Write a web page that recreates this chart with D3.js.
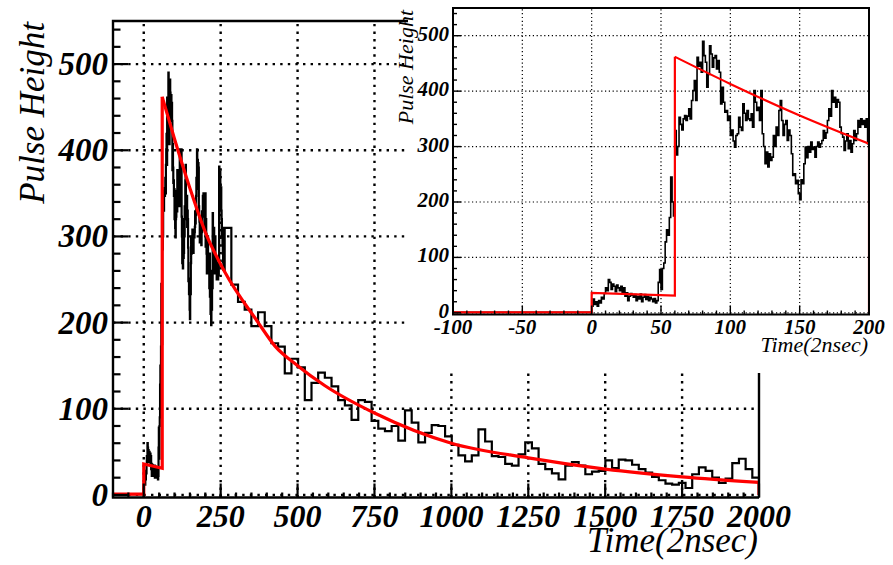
<!DOCTYPE html>
<html><head><meta charset="utf-8">
<script src="https://cdn.jsdelivr.net/npm/d3@7"></script>
<style>
html,body{margin:0;padding:0;background:#fff;}
svg{display:block;}
</style></head>
<body>
<svg id="chart" width="893" height="565"></svg>
<script>
// ---------------- data ----------------
const pedestal = 1;                 // level before t = 0
const fineStart = 0;                // fine bins, width 1, t = 0 .. 262
const fineValues = [
 12,25,15,20,12,22,18,28,25,35,
 45,40,60,55,42,52,48,38,50,45,
 40,48,35,45,30,36,22,30,35,32,
 28,33,22,30,25,34,20,28,33,24,
 30,22,28,25,20,26,18,22,55,78,
 42,80,90,128,150,140,172,245,200,175,
 329,285,300,353,340,330,350,356,347,355,
 368,350,383,401,419,383,461,445,452,434,
 490,464,452,407,430,482,467,443,460,464,
 440,455,434,377,407,380,362,365,347,355,
 320,330,310,299,320,323,353,335,329,377,
 360,347,365,350,347,359,335,401,380,365,
 371,347,401,323,300,269,290,263,287,275,
 281,320,300,335,320,365,383,347,320,340,
 347,311,330,320,287,248,251,233,239,215,
 204,240,233,269,299,280,300,290,308,295,
 299,281,300,308,299,305,311,329,315,325,
 347,368,355,401,380,389,371,385,380,335,
 323,317,293,310,323,296,311,290,305,329,
 311,323,347,335,350,340,347,335,350,305,
 350,288,320,303,280,257,290,270,300,265,
 280,257,275,240,280,230,260,210,240,197,
 230,215,260,240,327,280,300,257,310,270,
 290,265,300,257,276,260,270,250,265,255,
 270,250,262,255,268,381,370,354,375,357,
 340,357,330,320,300,310,290,280,270,261,265,262,261
];
const coarseStart = 263;            // coarse bins up to 2000
const coarseWidth = 21.7125;
const coarseValues = [
 310,244,224,215,196,212,196,176,172,141,
 158,148,110,130,142,136,126,110,104,87,
 110,108,86,77,74,80,63,98,84,61,
 72,81,80,68,58,46,39,46,76,62,
 45,44,36,34,47,61,54,36,30,25,
 18,34,38,34,24,27,28,40,31,41,
 40,35,30,26,21,17,13,12,14,8,
 24,32,28,20,14,19,37,42,30,20
];
// fit curve (red), read points
const fitBase = 1;
const fitStepT = [0, 60];
const fitStepV = [36, 31];
const fitT = [60,100,150,200,263,372,426,500,588,750,1000,1250,1500,1750,2000];
const fitV = [462,413,356,305,259,200,173,150,127,95,60,43,30,21,14.5];

const mainXTicks = [0,250,500,750,1000,1250,1500,1750,2000];
const mainYTicks = [0,100,200,300,400,500];
const insetXTicks = [-100,-50,0,50,100,150,200];
const insetYTicks = [0,100,200,300,400,500];
const xTitle = "Time(2nsec)";
const yTitle = "Pulse Height";

const FONT = '"Liberation Serif"';

// ---------------- helpers ----------------
const svg = d3.select("#chart");
function histBins(xmin, xmax){
  const b = [{x0:xmin, x1:fineStart, v:pedestal}];
  fineValues.forEach((v,i)=>b.push({x0:fineStart+i, x1:fineStart+i+1, v}));
  coarseValues.forEach((v,i)=>b.push({x0:coarseStart+i*coarseWidth, x1:coarseStart+(i+1)*coarseWidth, v}));
  return b.filter(d=>d.x0 < xmax && d.x1 > xmin);
}
function stepPoints(bins){
  const p=[];
  bins.forEach(d=>{p.push([d.x0,d.v]);p.push([d.x1,d.v]);});
  return p;
}
function addText(parent, txt, size, bold){
  const t = parent.append("text").style("font-family", FONT).attr("font-style","italic")
    .attr("font-size", size).attr("fill","#000");
  if(bold) t.attr("font-weight","bold");
  return t.text(txt);
}

function drawPanel(g, o){
  const x=o.x, y=o.y;
  const [x0,x1]=x.range(), [yb,yt]=y.range();
  const id=o.id;
  g.append("clipPath").attr("id",id).append("rect")
    .attr("x",x0).attr("y",yt).attr("width",x1-x0).attr("height",yb-yt);
  // grid
  const grid=g.append("g").attr("stroke","#000").attr("stroke-width",o.gridW)
    .attr("stroke-dasharray",o.gridDash);
  o.xTicks.forEach(t=>{ if(t>x.domain()[0] && t<x.domain()[1])
    grid.append("line").attr("x1",x(t)).attr("x2",x(t)).attr("y1",yb).attr("y2",yt);});
  o.yTicks.forEach(t=>grid.append("line").attr("x1",x0).attr("x2",x1).attr("y1",y(t)).attr("y2",y(t)));
  // histogram
  const dg=g.append("g").attr("clip-path",`url(#${id})`);
  const pts=stepPoints(histBins(x.domain()[0], x.domain()[1]));
  const lastX = Math.min(x.domain()[1], coarseStart+coarseValues.length*coarseWidth);
  pts.push([lastX,0]);
  const line=d3.line().x(d=>x(d[0])).y(d=>y(d[1]));
  dg.append("path").attr("d",line(pts)).attr("fill","none").attr("stroke","#000")
    .attr("stroke-width",o.histW).attr("stroke-linejoin","miter");
  // fit
  const xmax=x.domain()[1];
  const dec=[];
  fitT.forEach((t,i)=>{ if(t<=xmax) dec.push([t,fitV[i]]); });
  const decLine=d3.line().x(d=>x(d[0])).y(d=>y(d[1])).curve(d3.curveMonotoneX);
  const endV = dec[dec.length-1][1];
  const front=[[x.domain()[0],fitBase],[fitStepT[0],fitBase],[fitStepT[0],fitStepV[0]],
               [fitStepT[1],fitStepV[1]],[fitT[0],fitV[0]]];
  dg.append("path").attr("d",line(front)).attr("fill","none").attr("stroke","#ff0000")
    .attr("stroke-width",o.fitW);
  dg.append("path").attr("d",decLine(dec)).attr("fill","none").attr("stroke","#ff0000")
    .attr("stroke-width",o.fitW);
  dg.append("path").attr("d",line([[xmax,endV],[xmax,0]])).attr("fill","none").attr("stroke","#ff0000")
    .attr("stroke-width",o.fitW);
  // ticks
  const tk=g.append("g").attr("stroke","#000");
  d3.range(0, y.domain()[1]+0.1, o.yMinor).forEach(t=>{
    const maj = t % 100 === 0;
    tk.append("line").attr("x1",x0).attr("x2",x0+(maj?o.yMajL:o.yMinL)).attr("y1",y(t)).attr("y2",y(t))
      .attr("stroke-width",o.tickW);
  });
  d3.range(x.domain()[0], x.domain()[1]+0.1, o.xMinor).forEach(t=>{
    const maj = o.xTicks.includes(t);
    tk.append("line").attr("x1",x(t)).attr("x2",x(t)).attr("y1",yb).attr("y2",yb-(maj?o.xMajL:o.xMinL))
      .attr("stroke-width",o.tickW);
  });
  // frame
  o.frame(g);
  // labels
  o.yTicks.forEach(t=>addText(g, t, o.yLabSize, true).attr("x",o.yLabX).attr("y",y(t)+o.yLabDy)
    .attr("text-anchor","end"));
  o.xTicks.forEach(t=>addText(g, t, o.xLabSize, true).attr("x",x(t)).attr("y",o.xLabY)
    .attr("text-anchor","middle"));
  addText(g, xTitle, o.titleSize, false).attr("x",o.xTitleX).attr("y",o.xTitleY).attr("text-anchor","end");
  addText(g, yTitle, o.titleSize, false).attr("text-anchor","end")
    .attr("transform",`translate(${o.yTitleX},${o.yTitleY}) rotate(-90)`);
}

// ---------------- main panel ----------------
const mainX=d3.scaleLinear().domain([-100,2000]).range([113,759]);
const mainY=d3.scaleLinear().domain([-3,550]).range([497.5,21]);
drawPanel(svg.append("g"),{
  id:"clipMain", x:mainX, y:mainY, xTicks:mainXTicks, yTicks:mainYTicks,
  gridW:2.4, gridDash:"2.4,5.2", histW:2.2, fitW:3.2, tickW:2.2,
  yMinor:20, yMajL:15, yMinL:7.5, xMinor:50, xMajL:14, xMinL:5,
  yLabX:108, yLabDy:11, yLabSize:33, xLabY:527, xLabSize:32,
  xTitleX:758, xTitleY:552, yTitleX:44, yTitleY:22, titleSize:35,
  frame:g=>{
    const f=g.append("g").attr("stroke","#000").attr("stroke-width",2.4).attr("fill","none");
    f.append("path").attr("d",`M${mainX(2000)},${mainY(-3)} H${mainX(-100)} V${mainY(550)} H${mainX(2000)} V${mainY(-3)}`);
  }
});

// ---------------- inset pad ----------------
svg.append("rect").attr("x",408).attr("y",0).attr("width",485).attr("height",373).attr("fill","#fff");
const insX=d3.scaleLinear().domain([-100,200]).range([453,869]);
const insY=d3.scaleLinear().domain([-3,550]).range([314.5,8]);
drawPanel(svg.append("g"),{
  id:"clipInset", x:insX, y:insY, xTicks:insetXTicks, yTicks:insetYTicks,
  gridW:1.2, gridDash:"1.2,2.6", histW:1.6, fitW:2.2, tickW:1.4,
  yMinor:20, yMajL:8, yMinL:4, xMinor:10, xMajL:9, xMinL:4,
  yLabX:449, yLabDy:5, yLabSize:21, xLabY:334, xLabSize:21,
  xTitleX:868, xTitleY:352, yTitleX:413, yTitleY:10, titleSize:22,
  frame:g=>{
    g.append("rect").attr("x",insX(-100)).attr("y",insY(550)).attr("width",insX(200)-insX(-100))
      .attr("height",insY(-3)-insY(550)).attr("fill","none").attr("stroke","#000").attr("stroke-width",2);
  }
});
</script>
</body></html>
